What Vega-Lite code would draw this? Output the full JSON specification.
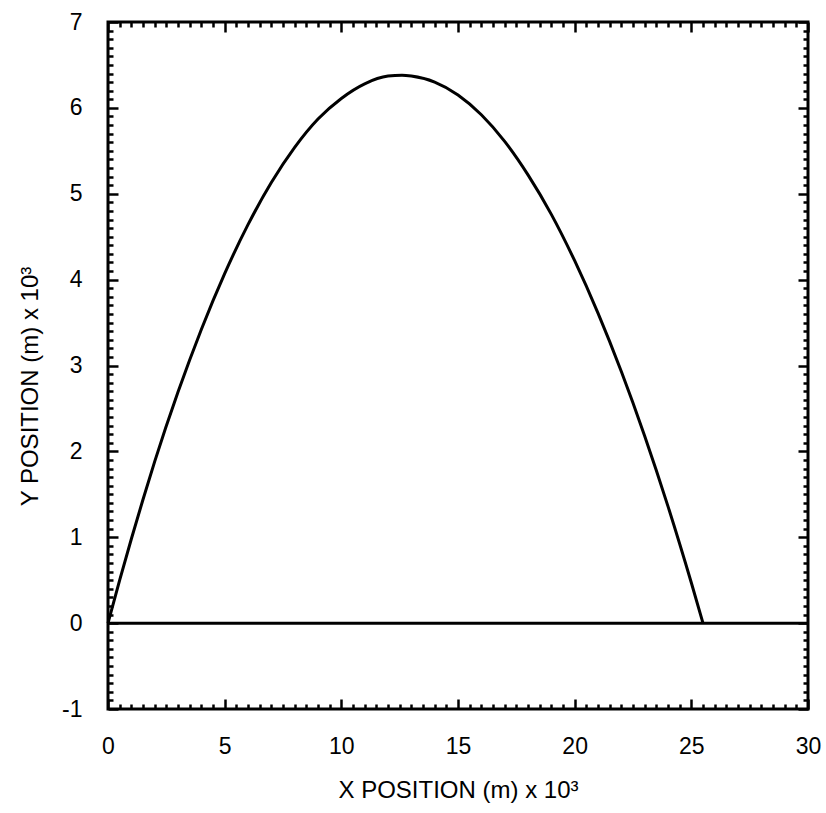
{
  "$schema": "https://vega.github.io/schema/vega-lite/v6.json",
  "width": 700,
  "height": 687,
  "autosize": "none",
  "padding": {"left": 108, "top": 22, "right": 18, "bottom": 104},
  "background": "white",
  "config": {
    "view": {"stroke": "black", "strokeWidth": 3},
    "font": "Liberation Sans",
    "axis": {"labelFont": "Liberation Sans", "titleFont": "Liberation Sans", "labelColor": "black", "titleColor": "black", "tickColor": "black", "grid": false, "domain": false}
  },
  "datasets": {
    "trajectory": [
      {"x": 0, "y": 0}, {"x": 0.5, "y": 0.5}, {"x": 1, "y": 0.98}, {"x": 1.5, "y": 1.44},
      {"x": 2, "y": 1.88}, {"x": 3, "y": 2.69}, {"x": 4, "y": 3.42}, {"x": 5, "y": 4.07},
      {"x": 6, "y": 4.64}, {"x": 7, "y": 5.13}, {"x": 8, "y": 5.54}, {"x": 9, "y": 5.87},
      {"x": 10, "y": 6.11}, {"x": 11, "y": 6.28}, {"x": 12, "y": 6.37}, {"x": 12.6, "y": 6.38},
      {"x": 13, "y": 6.37}, {"x": 14, "y": 6.3}, {"x": 15, "y": 6.15}, {"x": 16, "y": 5.92},
      {"x": 17, "y": 5.61}, {"x": 18, "y": 5.22}, {"x": 19, "y": 4.76}, {"x": 20, "y": 4.22},
      {"x": 21, "y": 3.61}, {"x": 22, "y": 2.93}, {"x": 23, "y": 2.18}, {"x": 24, "y": 1.36},
      {"x": 25, "y": 0.47}, {"x": 25.5, "y": 0}
    ]
  },
  "resolve": {"axis": {"x": "independent", "y": "independent"}},
  "layer": [
    {
      "data": {"name": "trajectory"},
      "mark": {"type": "line", "color": "black", "strokeWidth": 3, "interpolate": "monotone"},
      "encoding": {
        "x": {
          "field": "x", "type": "quantitative",
          "scale": {"domain": [0, 30], "nice": false, "zero": false},
          "axis": {
            "orient": "bottom",
            "title": "X POSITION (m) x 10³",
            "titleFontSize": 24, "titleFontWeight": "normal",
            "titleY": 81, "titleBaseline": "middle",
            "values": [0,0.5,1,1.5,2,2.5,3,3.5,4,4.5,5,5.5,6,6.5,7,7.5,8,8.5,9,9.5,10,10.5,11,11.5,12,12.5,13,13.5,14,14.5,15,15.5,16,16.5,17,17.5,18,18.5,19,19.5,20,20.5,21,21.5,22,22.5,23,23.5,24,24.5,25,25.5,26,26.5,27,27.5,28,28.5,29,29.5,30],
            "labelExpr": "datum.value % 5 === 0 ? '' + round(datum.value) : ''",
            "labelOverlap": false, "labelFlush": false,
            "labelFontSize": 23, "labelPadding": 36,
            "tickWidth": 2.5,
            "tickSize": {"condition": {"test": "datum.value % 5 === 0", "value": -10}, "value": -5}
          }
        },
        "y": {
          "field": "y", "type": "quantitative",
          "scale": {"domain": [-1, 7], "nice": false, "zero": false},
          "axis": {
            "orient": "left",
            "title": "Y POSITION (m) x 10³",
            "titleFontSize": 24, "titleFontWeight": "normal",
            "titleX": -78, "titleY": 364, "titleAngle": -90, "titleBaseline": "middle", "titleAlign": "center",
            "values": [-1,-0.9,-0.8,-0.7,-0.6,-0.5,-0.4,-0.3,-0.2,-0.1,0,0.1,0.2,0.3,0.4,0.5,0.6,0.7,0.8,0.9,1,1.1,1.2,1.3,1.4,1.5,1.6,1.7,1.8,1.9,2,2.1,2.2,2.3,2.4,2.5,2.6,2.7,2.8,2.9,3,3.1,3.2,3.3,3.4,3.5,3.6,3.7,3.8,3.9,4,4.1,4.2,4.3,4.4,4.5,4.6,4.7,4.8,4.9,5,5.1,5.2,5.3,5.4,5.5,5.6,5.7,5.8,5.9,6,6.1,6.2,6.3,6.4,6.5,6.6,6.7,6.8,6.9,7],
            "labelExpr": "abs(datum.value - round(datum.value)) < 0.001 ? '' + round(datum.value) : ''",
            "labelOverlap": false, "labelFlush": false,
            "labelFontSize": 23, "labelPadding": 36,
            "tickWidth": 2.5,
            "tickSize": {"condition": {"test": "abs(datum.value - round(datum.value)) < 0.001", "value": -10}, "value": -5}
          }
        }
      }
    },
    {
      "data": {"values": [{}]},
      "mark": {"type": "rule", "color": "black", "strokeWidth": 3},
      "encoding": {
        "x": {
          "datum": 0, "type": "quantitative",
          "axis": {
            "orient": "top", "title": null, "labels": false,
            "values": [0,0.5,1,1.5,2,2.5,3,3.5,4,4.5,5,5.5,6,6.5,7,7.5,8,8.5,9,9.5,10,10.5,11,11.5,12,12.5,13,13.5,14,14.5,15,15.5,16,16.5,17,17.5,18,18.5,19,19.5,20,20.5,21,21.5,22,22.5,23,23.5,24,24.5,25,25.5,26,26.5,27,27.5,28,28.5,29,29.5,30],
            "tickWidth": 2.5,
            "tickSize": {"condition": {"test": "datum.value % 5 === 0", "value": -10}, "value": -5}
          }
        },
        "x2": {"datum": 30},
        "y": {
          "datum": 0, "type": "quantitative",
          "axis": {
            "orient": "right", "title": null, "labels": false,
            "values": [-1,-0.9,-0.8,-0.7,-0.6,-0.5,-0.4,-0.3,-0.2,-0.1,0,0.1,0.2,0.3,0.4,0.5,0.6,0.7,0.8,0.9,1,1.1,1.2,1.3,1.4,1.5,1.6,1.7,1.8,1.9,2,2.1,2.2,2.3,2.4,2.5,2.6,2.7,2.8,2.9,3,3.1,3.2,3.3,3.4,3.5,3.6,3.7,3.8,3.9,4,4.1,4.2,4.3,4.4,4.5,4.6,4.7,4.8,4.9,5,5.1,5.2,5.3,5.4,5.5,5.6,5.7,5.8,5.9,6,6.1,6.2,6.3,6.4,6.5,6.6,6.7,6.8,6.9,7],
            "tickWidth": 2.5,
            "tickSize": {"condition": {"test": "abs(datum.value - round(datum.value)) < 0.001", "value": -10}, "value": -5}
          }
        }
      }
    }
  ]
}
